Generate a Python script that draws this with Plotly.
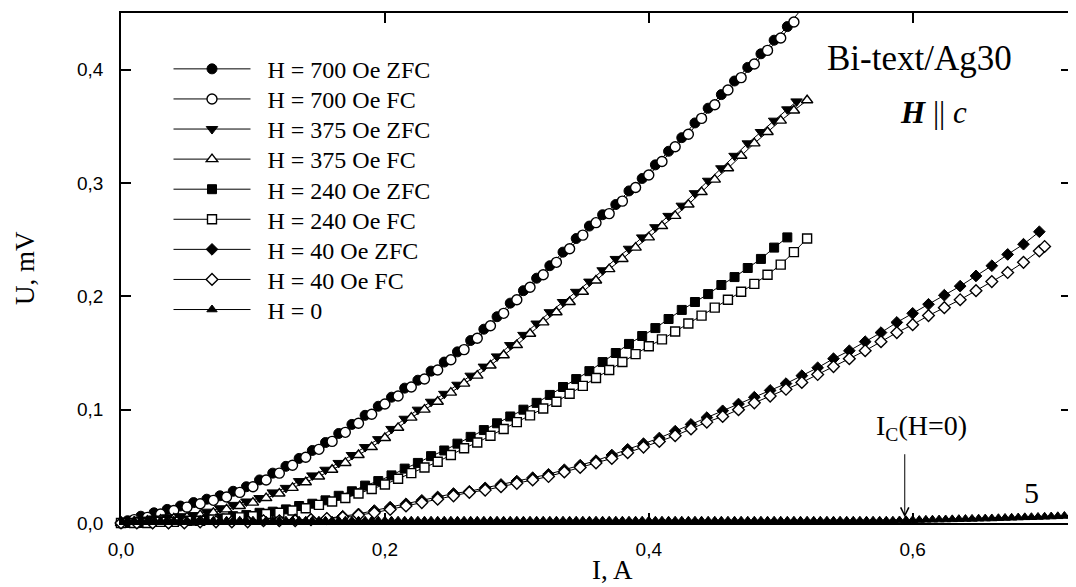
import plotly.graph_objects as go

# ---------------- data ----------------
I_700_zfc = [0.005, 0.015, 0.025, 0.035, 0.045, 0.055, 0.065, 0.075, 0.085, 0.095,
             0.105, 0.115, 0.125, 0.135, 0.145, 0.155, 0.165, 0.175, 0.185, 0.195,
             0.205, 0.215, 0.225, 0.235, 0.245, 0.255, 0.265, 0.275, 0.285, 0.295,
             0.305, 0.315, 0.325, 0.335, 0.345, 0.355, 0.365, 0.375, 0.385, 0.395,
             0.405, 0.415, 0.425, 0.435, 0.445, 0.455, 0.465, 0.475, 0.485, 0.495,
             0.505, 0.514]
U_700_zfc = [0.002, 0.006, 0.009, 0.012, 0.015, 0.018, 0.021, 0.024, 0.028, 0.032,
             0.038, 0.044, 0.050, 0.057, 0.064, 0.071, 0.079, 0.087, 0.095, 0.103,
             0.111, 0.119, 0.126, 0.134, 0.142, 0.151, 0.161, 0.171, 0.182, 0.194,
             0.205, 0.216, 0.227, 0.239, 0.251, 0.262, 0.272, 0.281, 0.293, 0.304,
             0.316, 0.328, 0.340, 0.353, 0.366, 0.378, 0.390, 0.402, 0.414, 0.426,
             0.438, 0.451]

I_700_fc = [0.00, 0.01, 0.02, 0.03, 0.04, 0.05, 0.06, 0.07, 0.08, 0.09,
            0.10, 0.11, 0.12, 0.13, 0.14, 0.15, 0.16, 0.17, 0.18, 0.19,
            0.20, 0.21, 0.22, 0.23, 0.24, 0.25, 0.26, 0.27, 0.28, 0.29,
            0.30, 0.31, 0.32, 0.33, 0.34, 0.35, 0.36, 0.37, 0.38, 0.39,
            0.40, 0.41, 0.42, 0.43, 0.44, 0.45, 0.46, 0.47, 0.48, 0.49,
            0.50, 0.51]
U_700_fc = [0.000, 0.003, 0.005, 0.008, 0.011, 0.014, 0.017, 0.020, 0.023, 0.027,
            0.032, 0.038, 0.044, 0.051, 0.058, 0.065, 0.072, 0.080, 0.088, 0.096,
            0.105, 0.112, 0.120, 0.127, 0.135, 0.144, 0.153, 0.163, 0.174, 0.185,
            0.197, 0.208, 0.219, 0.230, 0.242, 0.254, 0.265, 0.273, 0.284, 0.296,
            0.307, 0.319, 0.332, 0.343, 0.357, 0.369, 0.382, 0.393, 0.405, 0.417,
            0.428, 0.442]

I_375_zfc = [0.005, 0.015, 0.025, 0.035, 0.045, 0.055, 0.065, 0.075, 0.085, 0.095,
             0.105, 0.115, 0.125, 0.135, 0.145, 0.155, 0.165, 0.175, 0.185, 0.195,
             0.205, 0.215, 0.225, 0.235, 0.245, 0.255, 0.265, 0.275, 0.285, 0.295,
             0.305, 0.315, 0.325, 0.335, 0.345, 0.355, 0.365, 0.375, 0.385, 0.395,
             0.405, 0.415, 0.425, 0.435, 0.445, 0.455, 0.465, 0.475, 0.485, 0.495,
             0.505, 0.512]
U_375_zfc = [0.001, 0.003, 0.004, 0.005, 0.006, 0.007, 0.010, 0.013, 0.016, 0.019,
             0.022, 0.027, 0.031, 0.037, 0.042, 0.047, 0.053, 0.060, 0.067, 0.074,
             0.083, 0.092, 0.100, 0.107, 0.114, 0.122, 0.130, 0.138, 0.147, 0.157,
             0.166, 0.176, 0.186, 0.195, 0.204, 0.213, 0.223, 0.233, 0.242, 0.252,
             0.261, 0.271, 0.280, 0.291, 0.302, 0.313, 0.324, 0.335, 0.345, 0.355,
             0.365, 0.372]

I_375_fc = [0.00, 0.01, 0.02, 0.03, 0.04, 0.05, 0.06, 0.07, 0.08, 0.09,
            0.10, 0.11, 0.12, 0.13, 0.14, 0.15, 0.16, 0.17, 0.18, 0.19,
            0.20, 0.21, 0.22, 0.23, 0.24, 0.25, 0.26, 0.27, 0.28, 0.29,
            0.30, 0.31, 0.32, 0.33, 0.34, 0.35, 0.36, 0.37, 0.38, 0.39,
            0.40, 0.41, 0.42, 0.43, 0.44, 0.45, 0.46, 0.47, 0.48, 0.49,
            0.50, 0.51, 0.52]
U_375_fc = [0.000, 0.001, 0.002, 0.003, 0.004, 0.005, 0.007, 0.009, 0.012, 0.015,
            0.018, 0.022, 0.026, 0.031, 0.036, 0.041, 0.047, 0.053, 0.060, 0.067,
            0.075, 0.084, 0.093, 0.100, 0.107, 0.115, 0.123, 0.130, 0.139, 0.148,
            0.157, 0.167, 0.177, 0.186, 0.195, 0.204, 0.214, 0.224, 0.233, 0.243,
            0.252, 0.262, 0.271, 0.281, 0.292, 0.303, 0.313, 0.324, 0.335, 0.345,
            0.355, 0.364, 0.373]

I_240_zfc = [0.005, 0.015, 0.025, 0.035, 0.045, 0.055, 0.065, 0.075, 0.085, 0.095,
             0.105, 0.115, 0.125, 0.135, 0.145, 0.155, 0.165, 0.175, 0.185, 0.195,
             0.205, 0.215, 0.225, 0.235, 0.245, 0.255, 0.265, 0.275, 0.285, 0.295,
             0.305, 0.315, 0.325, 0.335, 0.345, 0.355, 0.365, 0.375, 0.385, 0.395,
             0.405, 0.415, 0.425, 0.435, 0.445, 0.455, 0.465, 0.475, 0.485, 0.495,
             0.505]
U_240_zfc = [0.000, 0.000, 0.001, 0.001, 0.002, 0.002, 0.003, 0.004, 0.006, 0.007,
             0.009, 0.010, 0.012, 0.015, 0.017, 0.020, 0.024, 0.028, 0.033, 0.037,
             0.042, 0.048, 0.053, 0.059, 0.064, 0.070, 0.076, 0.082, 0.088, 0.094,
             0.100, 0.106, 0.113, 0.120, 0.127, 0.134, 0.142, 0.150, 0.158, 0.165,
             0.172, 0.180, 0.188, 0.195, 0.202, 0.210, 0.217, 0.225, 0.233, 0.243,
             0.252]

I_240_fc = [0.00, 0.01, 0.02, 0.03, 0.04, 0.05, 0.06, 0.07, 0.08, 0.09,
            0.10, 0.11, 0.12, 0.13, 0.14, 0.15, 0.16, 0.17, 0.18, 0.19,
            0.20, 0.21, 0.22, 0.23, 0.24, 0.25, 0.26, 0.27, 0.28, 0.29,
            0.30, 0.31, 0.32, 0.33, 0.34, 0.35, 0.36, 0.37, 0.38, 0.39,
            0.40, 0.41, 0.42, 0.43, 0.44, 0.45, 0.46, 0.47, 0.48, 0.49,
            0.50, 0.51, 0.52]
U_240_fc = [0.000, 0.000, 0.000, 0.001, 0.001, 0.002, 0.002, 0.003, 0.004, 0.005,
            0.006, 0.008, 0.009, 0.011, 0.013, 0.016, 0.019, 0.022, 0.026, 0.030,
            0.034, 0.039, 0.044, 0.049, 0.054, 0.060, 0.066, 0.071, 0.077, 0.083,
            0.089, 0.095, 0.101, 0.107, 0.114, 0.121, 0.128, 0.135, 0.142, 0.149,
            0.156, 0.162, 0.169, 0.176, 0.183, 0.190, 0.197, 0.204, 0.211, 0.219,
            0.228, 0.239, 0.251]

I_40_zfc = [0.000, 0.012, 0.024, 0.036, 0.048, 0.060, 0.072, 0.084, 0.096, 0.108,
            0.120, 0.132, 0.144, 0.156, 0.168, 0.180, 0.192, 0.204, 0.216, 0.228,
            0.240, 0.252, 0.264, 0.276, 0.288, 0.300, 0.312, 0.324, 0.336, 0.348,
            0.360, 0.372, 0.384, 0.396, 0.408, 0.420, 0.432, 0.444, 0.456, 0.468,
            0.480, 0.492, 0.504, 0.516, 0.528, 0.540, 0.552, 0.564, 0.576, 0.588,
            0.600, 0.612, 0.624, 0.636, 0.648, 0.660, 0.672, 0.684, 0.696]
U_40_zfc = [0.000, 0.000, 0.000, 0.000, 0.001, 0.001, 0.001, 0.001, 0.002, 0.002,
            0.002, 0.003, 0.003, 0.004, 0.006, 0.008, 0.011, 0.014, 0.017, 0.020,
            0.023, 0.026, 0.028, 0.031, 0.034, 0.037, 0.040, 0.043, 0.047, 0.051,
            0.055, 0.060, 0.065, 0.070, 0.075, 0.081, 0.087, 0.093, 0.099, 0.105,
            0.111, 0.117, 0.123, 0.130, 0.137, 0.145, 0.152, 0.160, 0.168, 0.177,
            0.185, 0.193, 0.201, 0.209, 0.218, 0.227, 0.237, 0.246, 0.257]

I_40_fc = [0.000, 0.012, 0.024, 0.036, 0.048, 0.060, 0.072, 0.084, 0.096, 0.108,
           0.120, 0.132, 0.144, 0.156, 0.168, 0.180, 0.192, 0.204, 0.216, 0.228,
           0.240, 0.252, 0.264, 0.276, 0.288, 0.300, 0.312, 0.324, 0.336, 0.348,
           0.360, 0.372, 0.384, 0.396, 0.408, 0.420, 0.432, 0.444, 0.456, 0.468,
           0.480, 0.492, 0.504, 0.516, 0.528, 0.540, 0.552, 0.564, 0.576, 0.588,
           0.600, 0.612, 0.624, 0.636, 0.648, 0.660, 0.672, 0.684, 0.696, 0.700]
U_40_fc = [0.000, 0.000, 0.000, 0.000, 0.000, 0.001, 0.001, 0.001, 0.001, 0.002,
           0.002, 0.002, 0.003, 0.004, 0.005, 0.007, 0.009, 0.012, 0.015, 0.018,
           0.021, 0.024, 0.027, 0.029, 0.032, 0.035, 0.038, 0.041, 0.045, 0.049,
           0.053, 0.057, 0.062, 0.067, 0.072, 0.077, 0.083, 0.089, 0.094, 0.100,
           0.106, 0.112, 0.118, 0.124, 0.131, 0.138, 0.145, 0.152, 0.160, 0.168,
           0.175, 0.183, 0.190, 0.197, 0.205, 0.213, 0.221, 0.230, 0.240, 0.244]

I_0 = [0.000, 0.005, 0.010, 0.015, 0.020, 0.025, 0.030, 0.035, 0.040, 0.045,
       0.050, 0.055, 0.060, 0.065, 0.070, 0.075, 0.080, 0.085, 0.090, 0.095,
       0.100, 0.105, 0.110, 0.115, 0.120, 0.125, 0.130, 0.135, 0.140, 0.145,
       0.150, 0.155, 0.160, 0.165, 0.170, 0.175, 0.180, 0.185, 0.190, 0.195,
       0.200, 0.205, 0.210, 0.215, 0.220, 0.225, 0.230, 0.235, 0.240, 0.245,
       0.250, 0.255, 0.260, 0.265, 0.270, 0.275, 0.280, 0.285, 0.290, 0.295,
       0.300, 0.305, 0.310, 0.315, 0.320, 0.325, 0.330, 0.335, 0.340, 0.345,
       0.350, 0.355, 0.360, 0.365, 0.370, 0.375, 0.380, 0.385, 0.390, 0.395,
       0.400, 0.405, 0.410, 0.415, 0.420, 0.425, 0.430, 0.435, 0.440, 0.445,
       0.450, 0.455, 0.460, 0.465, 0.470, 0.475, 0.480, 0.485, 0.490, 0.495,
       0.500, 0.505, 0.510, 0.515, 0.520, 0.525, 0.530, 0.535, 0.540, 0.545,
       0.550, 0.555, 0.560, 0.565, 0.570, 0.575, 0.580, 0.585, 0.590, 0.595,
       0.600, 0.605, 0.610, 0.615, 0.620, 0.625, 0.630, 0.635, 0.640, 0.645,
       0.650, 0.655, 0.660, 0.665, 0.670, 0.675, 0.680, 0.685, 0.690, 0.695,
       0.700, 0.705, 0.710, 0.715, 0.720]
U_0 = [0.002, 0.002, 0.002, 0.002, 0.002, 0.002, 0.002, 0.002, 0.002, 0.002,
       0.002, 0.002, 0.002, 0.002, 0.002, 0.002, 0.002, 0.002, 0.002, 0.002,
       0.002, 0.002, 0.002, 0.002, 0.002, 0.002, 0.002, 0.002, 0.002, 0.002,
       0.002, 0.002, 0.002, 0.002, 0.002, 0.002, 0.002, 0.002, 0.002, 0.002,
       0.002, 0.002, 0.002, 0.002, 0.002, 0.002, 0.002, 0.002, 0.002, 0.002,
       0.002, 0.002, 0.002, 0.002, 0.002, 0.002, 0.002, 0.002, 0.002, 0.002,
       0.002, 0.002, 0.002, 0.002, 0.002, 0.002, 0.002, 0.002, 0.002, 0.002,
       0.002, 0.002, 0.002, 0.002, 0.002, 0.002, 0.002, 0.002, 0.002, 0.002,
       0.002, 0.002, 0.002, 0.002, 0.002, 0.002, 0.002, 0.002, 0.002, 0.002,
       0.002, 0.002, 0.002, 0.002, 0.002, 0.002, 0.002, 0.002, 0.002, 0.002,
       0.002, 0.002, 0.002, 0.002, 0.002, 0.002, 0.002, 0.002, 0.002, 0.002,
       0.002, 0.002, 0.002, 0.002, 0.002, 0.002, 0.002, 0.002, 0.0022, 0.0024,
       0.0025, 0.0026, 0.0028, 0.0029, 0.003, 0.0031, 0.0032, 0.0034, 0.0035, 0.0036,
       0.0038, 0.0039, 0.004, 0.0042, 0.0044, 0.0046, 0.0048, 0.005, 0.0051, 0.0053,
       0.0055, 0.0057, 0.0059, 0.0062, 0.0065]

x_ticks = [0.0, 0.2, 0.4, 0.6]
y_ticks = [0.0, 0.1, 0.2, 0.3, 0.4]

series = [
    ("H = 700 Oe ZFC", I_700_zfc, U_700_zfc, "circle", True, 10),
    ("H = 700 Oe FC", I_700_fc, U_700_fc, "circle", False, 10),
    ("H = 375 Oe ZFC", I_375_zfc, U_375_zfc, "triangle-down", True, 10),
    ("H = 375 Oe FC", I_375_fc, U_375_fc, "triangle-up", False, 10),
    ("H = 240 Oe ZFC", I_240_zfc, U_240_zfc, "square", True, 9),
    ("H = 240 Oe FC", I_240_fc, U_240_fc, "square", False, 9),
    ("H = 40 Oe ZFC", I_40_zfc, U_40_zfc, "diamond", True, 9),
    ("H = 40 Oe FC", I_40_fc, U_40_fc, "diamond", False, 9),
    ("H = 0", I_0, U_0, "triangle-up", True, 9),
]

SERIF = "Liberation Serif"
SANS = "Liberation Sans"

# plot area on the page: 121..1073 x 13..523 (page body adds an 8 px offset)
PLOT_TOP, PLOT_BOTTOM = 13.0, 523.3
PLOT_H = PLOT_BOTTOM - PLOT_TOP


def py_to_paper(py):
    return (PLOT_BOTTOM - py) / PLOT_H


fig = go.Figure()
legend_layouts = {}
for k, (name, xs, ys, sym, filled, size) in enumerate(series):
    lname = "legend" if k == 0 else "legend%d" % (k + 1)
    fig.add_trace(go.Scatter(
        x=xs, y=ys, name="\u00a0\u00a0" + name, mode="lines+markers",
        legend=lname,
        line=dict(color="black", width=1),
        marker=dict(symbol=sym, size=size,
                    color="black" if filled else "white",
                    line=dict(color="black", width=1 if filled else 1.4)),
        cliponaxis=(name == "H = 0"),
    ))
    row_center = 69.3 + k * 30.1
    legend_layouts[lname] = dict(
        x=0.05, y=py_to_paper(row_center), xanchor="left", yanchor="middle",
        bgcolor="rgba(0,0,0,0)", borderwidth=0,
        font=dict(family=SERIF, size=24, color="black"),
        itemwidth=77,
    )

axis_common = dict(
    showgrid=False, zeroline=False, showline=True, linecolor="black",
    linewidth=1.5, mirror="ticks", ticks="inside", ticklen=10, tickwidth=1.5,
    tickcolor="black", tickformat=".1f",
    tickfont=dict(family=SANS, size=19, color="black"),
)

fig.update_xaxes(range=[0, 0.72], tickvals=x_ticks, ticklabelstandoff=8, **axis_common)
fig.update_yaxes(range=[0, 0.45], tickvals=y_ticks, ticklabelstandoff=12, **axis_common)

fig.update_layout(
    width=1068, height=579,
    margin=dict(l=113, r=3, t=5, b=64),
    paper_bgcolor="white", plot_bgcolor="white",
    separators=", ",
    showlegend=True,
    annotations=[
        dict(text="Bi-text/Ag30", x=0.84, y=0.91, xref="paper", yref="paper",
             xanchor="center", yanchor="middle",
             showarrow=False, font=dict(family=SERIF, size=35, color="black")),
        dict(text="<b><i>H</i></b> || <i>c</i>", x=0.855, y=0.804, xref="paper", yref="paper",
             xanchor="center", yanchor="middle",
             showarrow=False, font=dict(family=SERIF, size=31, color="black")),
        dict(text="5", x=0.69, y=0.027, xref="x", yref="y",
             xanchor="center", yanchor="middle",
             showarrow=False, font=dict(family=SERIF, size=30, color="black")),
        dict(text="I<sub>C</sub>(H=0)", x=0.607, y=0.084, xref="x", yref="y",
             xanchor="center", yanchor="middle",
             showarrow=False, font=dict(family=SERIF, size=28, color="black")),
        dict(text="", x=0.594, y=0.005, xref="x", yref="y",
             ax=0.594, ay=0.062, axref="x", ayref="y",
             showarrow=True, arrowhead=5, arrowsize=1.6, arrowwidth=1, arrowcolor="black"),
        dict(text="I, A", x=0.517, y=-0.093, xref="paper", yref="paper",
             xanchor="center", yanchor="middle",
             showarrow=False, font=dict(family=SERIF, size=27, color="black")),
        dict(text="U, mV", x=-0.101, y=0.5, xref="paper", yref="paper", textangle=-90,
             xanchor="center", yanchor="middle",
             showarrow=False, font=dict(family=SERIF, size=27, color="black")),
    ],
    **legend_layouts,
)

fig.write_html("out.html")
